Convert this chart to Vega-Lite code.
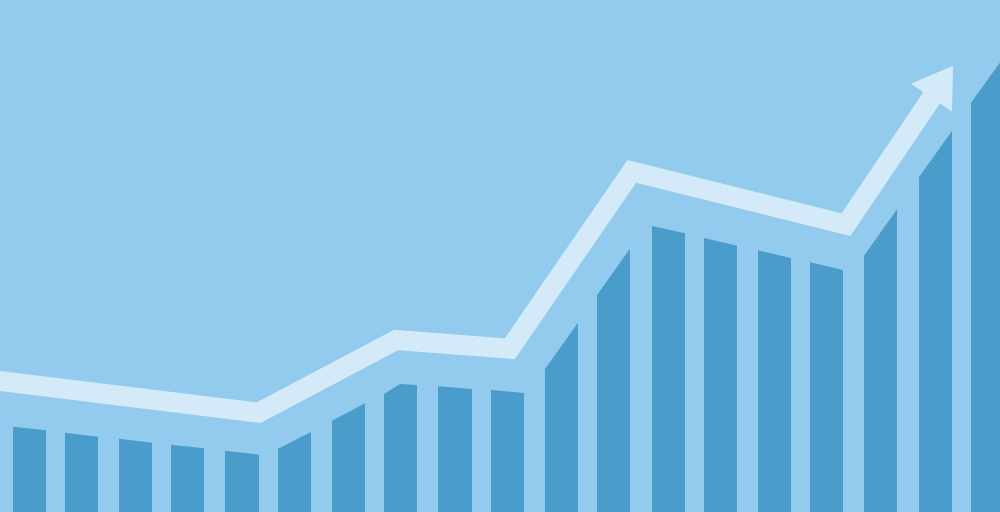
{
  "$schema": "https://vega.github.io/schema/vega-lite/v6.json",
  "width": 1000,
  "height": 512,
  "autosize": {"type": "fit", "contains": "padding"},
  "padding": 0,
  "background": "#92cbee",
  "datasets": {
    "bars": [
      {"bar": 1, "x": 13, "h": 85.3}, {"bar": 1, "x": 46, "h": 81.7},
      {"bar": 2, "x": 65, "h": 79.3}, {"bar": 2, "x": 98, "h": 75.3},
      {"bar": 3, "x": 119, "h": 73.3}, {"bar": 3, "x": 152, "h": 69.3},
      {"bar": 4, "x": 171, "h": 67.3}, {"bar": 4, "x": 204, "h": 63.7},
      {"bar": 5, "x": 225, "h": 61.3}, {"bar": 5, "x": 259, "h": 57.3},
      {"bar": 6, "x": 278, "h": 63.3}, {"bar": 6, "x": 311, "h": 80},
      {"bar": 7, "x": 332, "h": 91.3}, {"bar": 7, "x": 365, "h": 108.7},
      {"bar": 8, "x": 384, "h": 118}, {"bar": 8, "x": 400, "h": 128}, {"bar": 8, "x": 417, "h": 127},
      {"bar": 9, "x": 438, "h": 125.7}, {"bar": 9, "x": 472, "h": 123},
      {"bar": 10, "x": 491, "h": 122}, {"bar": 10, "x": 524, "h": 119},
      {"bar": 11, "x": 545, "h": 143}, {"bar": 11, "x": 578, "h": 189.3},
      {"bar": 12, "x": 597, "h": 217}, {"bar": 12, "x": 630, "h": 263.3},
      {"bar": 13, "x": 652, "h": 286}, {"bar": 13, "x": 685, "h": 278.7},
      {"bar": 14, "x": 704, "h": 274}, {"bar": 14, "x": 737, "h": 266.3},
      {"bar": 15, "x": 758, "h": 261.7}, {"bar": 15, "x": 791, "h": 254},
      {"bar": 16, "x": 810, "h": 249.7}, {"bar": 16, "x": 843, "h": 242},
      {"bar": 17, "x": 864, "h": 256.3}, {"bar": 17, "x": 897, "h": 302.7},
      {"bar": 18, "x": 919, "h": 335}, {"bar": 18, "x": 952, "h": 381},
      {"bar": 19, "x": 971, "h": 409.3}, {"bar": 19, "x": 1004, "h": 455}
    ],
    "trend": [
      {"x": -10, "h": 132.2},
      {"x": 258.7, "h": 99.3},
      {"x": 396.2, "h": 172},
      {"x": 509.7, "h": 163.2},
      {"x": 631.8, "h": 340.7},
      {"x": 846, "h": 287.3},
      {"x": 934.3, "h": 418.2}
    ],
    "tip": [
      {"x": 953, "h": 446.3}
    ]
  },
  "layer": [
    {
      "data": {"name": "bars"},
      "mark": {"type": "area", "color": "#4a9ccb", "clip": true, "interpolate": "linear"},
      "encoding": {
        "x": {"field": "x", "type": "quantitative", "scale": {"domain": [0, 1000], "nice": false}, "axis": null},
        "y": {"field": "h", "type": "quantitative", "stack": null, "scale": {"domain": [0, 512], "nice": false}, "axis": null},
        "detail": {"field": "bar", "type": "nominal"}
      }
    },
    {
      "data": {"name": "trend"},
      "mark": {"type": "line", "color": "#d4eaf8", "strokeWidth": 20, "strokeJoin": "miter", "strokeCap": "butt", "clip": true},
      "encoding": {
        "x": {"field": "x", "type": "quantitative"},
        "y": {"field": "h", "type": "quantitative"}
      }
    },
    {
      "data": {"name": "tip"},
      "mark": {
        "type": "point",
        "filled": true,
        "opacity": 1,
        "color": "#d4eaf8",
        "shape": "M0,0 L0.496,0.77 L-0.496,0.77 Z",
        "size": 10000,
        "angle": 34
      },
      "encoding": {
        "x": {"field": "x", "type": "quantitative"},
        "y": {"field": "h", "type": "quantitative"}
      }
    }
  ],
  "config": {
    "view": {"stroke": null}
  }
}
